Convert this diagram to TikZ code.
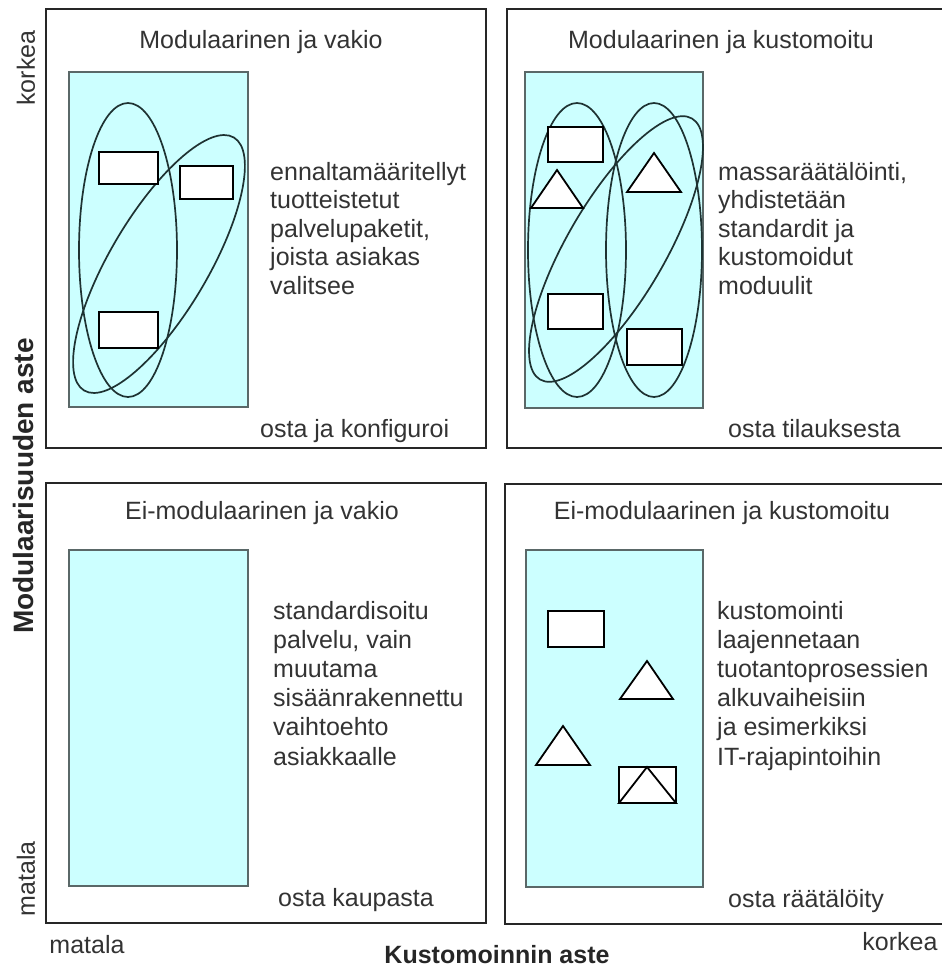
\documentclass[tikz,border=0pt]{standalone}
\usepackage{fontspec}
\setmainfont{Liberation Sans}
\definecolor{zonecyan}{HTML}{CCFFFF}
\definecolor{zoneedge}{HTML}{5A6868}
\definecolor{loopdark}{HTML}{1E3232}
\definecolor{txt}{HTML}{333333}
\definecolor{frame}{HTML}{262626}
\begin{document}
\begin{tikzpicture}[x=1bp,y=-1bp,
  quad/.style={draw=frame, line width=2bp},
  zone/.style={draw=zoneedge, fill=zonecyan, line width=2.4bp},
  loop/.style={draw=loopdark, line width=1.7bp},
  part/.style={draw=black, fill=white, line width=1.8bp, line join=miter},
  title/.style={anchor=base, inner sep=0, text=txt, font=\fontsize{25bp}{28bp}\selectfont},
  % multi-line texts are anchored on the baseline of their last line
  desc/.style={anchor=base west, inner sep=0, align=left, text=txt, font=\fontsize{25bp}{28.5bp}\selectfont},
  desclow/.style={desc, font=\fontsize{25bp}{29.2bp}\selectfont},
  axis/.style={inner sep=0, text=txt, font=\fontsize{25bp}{28bp}\selectfont},
  axistitle/.style={inner sep=0, text=black!85, font=\fontsize{25bp}{28bp}\selectfont\bfseries},
]
\useasboundingbox (0,0) rectangle (942,969);

% ---------- quadrant frames ----------
\draw[quad] (46,9) rectangle (486,448);
\draw[quad] (943,9) -- (507,9) -- (507,448) -- (943,448);
\draw[quad] (46,483) rectangle (486,923);
\draw[quad] (943,484) -- (505,484) -- (505,924) -- (943,924);

% ---------- cyan offering areas ----------
\draw[zone] (69,72) rectangle (248,407);
\draw[zone] (525,72) rectangle (703,408);
\draw[zone] (69,550) rectangle (248,886);
\draw[zone] (526,550) rectangle (703,887);

% ---------- modular, standard ----------
\draw[loop] (128,250) ellipse [x radius=49, y radius=147];
\draw[loop, rotate around={-30.6:(159,264)}] (159,264) ellipse [x radius=49, y radius=147];
\draw[part] (99,152) rectangle (158,184);
\draw[part] (180,166) rectangle (233,199);
\draw[part] (99,312) rectangle (158,348);

% ---------- modular, customised ----------
\draw[loop] (577,250) ellipse [x radius=49, y radius=147];
\draw[loop] (654,250) ellipse [x radius=48, y radius=147];
\draw[loop, rotate around={-30.2:(616,249)}] (616,249) ellipse [x radius=49, y radius=151];
\draw[part] (548,127) rectangle (603,162);
\draw[part] (557,170) -- (531,208) -- (583,208) -- cycle;
\draw[part] (654,153) -- (627,192) -- (681,192) -- cycle;
\draw[part] (548,294) rectangle (603,329);
\draw[part] (627,329) rectangle (682,365);

% ---------- non-modular, customised ----------
\draw[part] (548,611) rectangle (604,647);
\draw[part] (647,661) -- (620,699) -- (673,699) -- cycle;
\draw[part] (563,726) -- (536,765) -- (590,765) -- cycle;
\draw[part] (619,767) rectangle (676,803);
\draw[part] (647,767) -- (619,803) -- (676,803) -- cycle;

% ---------- quadrant titles ----------
\node[title] (t1) at (261,48) {Modulaarinen ja vakio};
\node[title] (t2) at (721,48) {Modulaarinen ja kustomoitu};
\node[title] (t3) at (262,519) {Ei-modulaarinen ja vakio};
\node[title] (t4) at (722,519) {Ei-modulaarinen ja kustomoitu};

% ---------- descriptions ----------
\node[desc] (d1) at (270,294) {ennaltamääritellyt\\tuotteistetut\\palvelupaketit,\\joista asiakas\\valitsee};
\node[desc] (d2) at (718,294) {massaräätälöinti,\\yhdistetään\\standardit ja\\kustomoidut\\moduulit};
\node[desclow] (d3) at (273,765) {standardisoitu\\palvelu, vain\\muutama\\sisäänrakennettu\\vaihtoehto\\asiakkaalle};
\node[desclow] (d4) at (717,765) {kustomointi\\laajennetaan\\tuotantoprosessien\\alkuvaiheisiin\\ja esimerkiksi\\IT-rajapintoihin};

% ---------- purchase modes ----------
\node[desc] (b1) at (260,437) {osta ja konfiguroi};
\node[desc] (b2) at (728,437) {osta tilauksesta};
\node[desc] (b3) at (278,906) {osta kaupasta};
\node[desc] (b4) at (728,907) {osta räätälöity};

% ---------- axes ----------
\node[axis, rotate=90] (yhi) at (26,68) {korkea};
\node[axis, rotate=90] (ylo) at (26,879) {matala};
\node[axistitle, rotate=90, font=\fontsize{28bp}{30bp}\selectfont\bfseries] (ytitle) at (23,486) {Modulaarisuuden aste};
\node[axis, anchor=base] (xlo) at (87,953) {matala};
\node[axis, anchor=base] (xhi) at (900,950) {korkea};
\node[axistitle, anchor=base] (xtitle) at (497,963) {Kustomoinnin aste};
\end{tikzpicture}
\end{document}
